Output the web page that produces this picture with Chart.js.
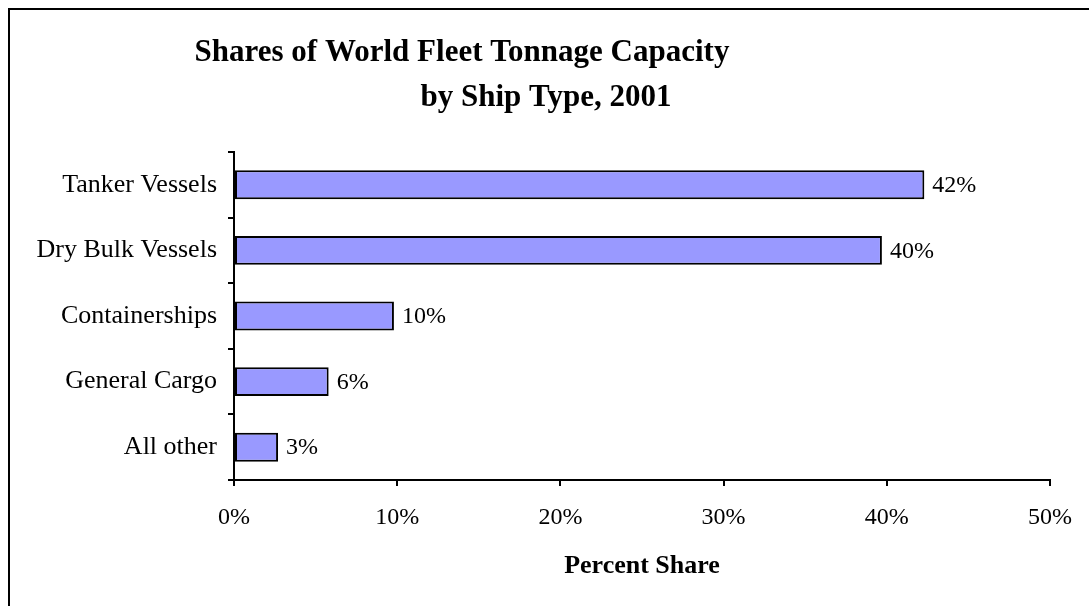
<!DOCTYPE html>
<html>
<head>
<meta charset="utf-8">
<script src="https://cdn.jsdelivr.net/npm/chart.js"></script>
<style>
  body { margin: 0; background: #fff; }
  canvas { display: block; }
</style>
</head>
<body>
<canvas id="grafico" width="1089" height="606"></canvas>
<script>
// datos del grafico
var tiposBuque = ['Tanker Vessels', 'Dry Bulk Vessels', 'Containerships', 'General Cargo', 'All other'];
var porcentajes = [42.3, 39.7, 9.8, 5.8, 2.7];
var ticksX = [0, 10, 20, 30, 40, 50];
var tituloLineas = ['Shares of World Fleet Tonnage Capacity', 'by Ship Type, 2001'];
var tituloEje = 'Percent Share';

var serif = "'Times New Roman', 'Liberation Serif', serif";

// marco alrededor del grafico (lado izquierdo y superior)
var marco = {
    id: 'marco',
    beforeDraw: function (chart) {
        var ctx = chart.ctx;
        ctx.save();
        ctx.strokeStyle = '#000';
        ctx.lineWidth = 2;
        ctx.beginPath();
        ctx.moveTo(9, chart.height);
        ctx.lineTo(9, 9);
        ctx.lineTo(chart.width, 9);
        ctx.stroke();
        ctx.restore();
    }
};

// titulo en dos lineas, la segunda desplazada
var titulo = {
    id: 'titulo',
    afterDraw: function (chart) {
        var ctx = chart.ctx;
        ctx.save();
        ctx.fillStyle = '#000';
        ctx.font = 'bold 31px ' + serif;
        ctx.textAlign = 'center';
        ctx.textBaseline = 'middle';
        ctx.fillText(tituloLineas[0], 462, 53);
        ctx.fillText(tituloLineas[1], 546, 98);
        ctx.restore();
    }
};

// etiquetas con el valor al final de cada barra
var etiquetas = {
    id: 'etiquetas',
    afterDatasetsDraw: function (chart) {
        var ctx = chart.ctx;
        var meta = chart.getDatasetMeta(0);
        ctx.save();
        ctx.fillStyle = '#000';
        ctx.font = '24px ' + serif;
        ctx.textAlign = 'left';
        ctx.textBaseline = 'middle';
        meta.data.forEach(function (barra, i) {
            ctx.fillText(Math.round(porcentajes[i]) + '%', barra.x + 8, barra.y + 1);
        });
        ctx.restore();
    }
};

var ctx = document.getElementById('grafico').getContext('2d');
var myChart = new Chart(ctx, {
    type: 'bar',
    data: {
        labels: tiposBuque,
        datasets: [{
            data: porcentajes,
            backgroundColor: '#9999ff',
            borderColor: '#000',
            borderWidth: 2,
            borderSkipped: false,
            barPercentage: 0.44,
            categoryPercentage: 1
        }]
    },
    options: {
        indexAxis: 'y',
        responsive: false,
        animation: false,
        events: [],
        layout: { padding: { top: 152, right: 38, left: 0, bottom: 0 } },
        plugins: {
            legend: { display: false },
            title: { display: false },
            tooltip: { enabled: false }
        },
        scales: {
            x: {
                type: 'linear',
                min: 0,
                max: 50,
                afterFit: function (scale) { scale.height = 126; },
                afterBuildTicks: function (scale) {
                    scale.ticks = ticksX.map(function (v) { return { value: v }; });
                },
                ticks: {
                    color: '#000',
                    font: { family: serif, size: 24 },
                    padding: 17,
                    maxRotation: 0,
                    callback: function (v) { return v + '%'; }
                },
                grid: { drawOnChartArea: false, drawTicks: true, tickLength: 6, color: '#000', lineWidth: 2 },
                border: { color: '#000', width: 2 },
                title: {
                    display: true,
                    text: tituloEje,
                    color: '#000',
                    font: { family: serif, size: 26, weight: 'bold' },
                    padding: { top: 0, bottom: 24 }
                }
            },
            y: {
                afterFit: function (scale) { scale.width = 234; },
                ticks: {
                    color: '#000',
                    font: { family: serif, size: 26 },
                    padding: 11
                },
                grid: { offset: true, drawOnChartArea: false, drawTicks: true, tickLength: 6, color: '#000', lineWidth: 2 },
                border: { color: '#000', width: 2 }
            }
        }
    },
    plugins: [marco, titulo, etiquetas]
});
</script>
</body>
</html>
